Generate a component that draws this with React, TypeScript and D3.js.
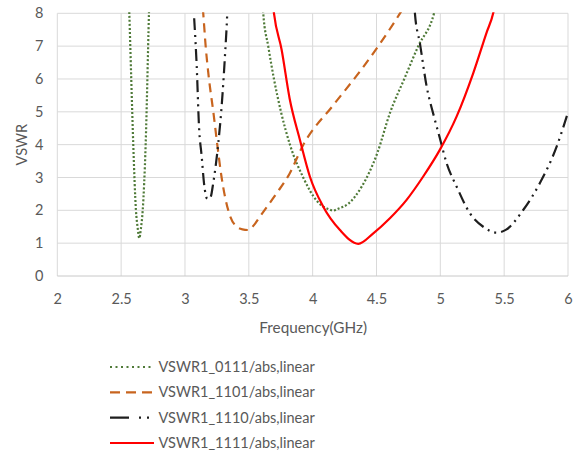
import React, { useRef, useEffect } from "react";
import * as d3 from "d3";

// frequency (GHz) / VSWR; values above 8 are clipped
const freq0111 = [2.55, 2.564, 2.58, 2.595, 2.616, 2.63, 2.642, 2.655, 2.669, 2.692, 2.718, 2.74, 3.59, 3.613, 3.652, 3.697, 3.752, 3.822, 3.926, 4.03, 4.135, 4.16, 4.2, 4.279, 4.384, 4.506, 4.605, 4.723, 4.827, 4.95, 4.97];
const vswr0111 = [9.5, 8.0, 5.9, 4.0, 2.0, 1.45, 1.15, 1.45, 2.0, 4.0, 8.0, 11, 10, 8.0, 7.0, 6.0, 5.0, 4.0, 3.0, 2.3, 2.02, 1.99, 2.05, 2.2, 2.72, 3.74, 4.96, 6.05, 7.0, 7.99, 8.3];

const freq1101 = [3.13, 3.143, 3.162, 3.188, 3.222, 3.253, 3.287, 3.339, 3.405, 3.45, 3.496, 3.54, 3.587, 3.718, 3.817, 3.926, 4.161, 4.384, 4.514, 4.684, 4.7];
const vswr1101 = [8.6, 8.0, 7.0, 6.0, 5.0, 4.0, 3.0, 2.0, 1.5, 1.42, 1.4, 1.55, 1.81, 2.52, 3.1, 3.99, 5.2, 6.3, 7.0, 8.0, 8.1];

const freq1110 = [3.072, 3.092, 3.11, 3.131, 3.149, 3.175, 3.2, 3.222, 3.261, 3.287, 3.313, 3.331, 3.34, 4.79, 4.801, 4.84, 4.893, 4.95, 4.996, 5.049, 5.128, 5.232, 5.336, 5.441, 5.519, 5.649, 5.78, 5.911, 5.994];
const vswr1110 = [7.85, 6.38, 4.55, 3.64, 2.83, 2.35, 2.4, 2.85, 4.05, 5.16, 6.69, 8.0, 9.0, 9.0, 8.0, 7.09, 5.77, 4.86, 4.2, 3.44, 2.72, 1.91, 1.5, 1.32, 1.42, 2.01, 2.83, 3.94, 4.91];

const freq1111 = [3.68, 3.697, 3.757, 3.82, 3.9, 3.978, 4.083, 4.214, 4.357, 4.475, 4.605, 4.736, 4.866, 4.996, 5.128, 5.258, 5.363, 5.414, 5.43];
const vswr1111 = [8.6, 8.0, 6.89, 5.4, 4.15, 3.03, 2.11, 1.4, 0.98, 1.3, 1.76, 2.32, 3.03, 3.84, 4.86, 6.18, 7.42, 8.0, 8.3];

const seriesNames = ["VSWR1_0111/abs,linear", "VSWR1_1101/abs,linear", "VSWR1_1110/abs,linear", "VSWR1_1111/abs,linear"];
const xTicks = [2, 2.5, 3, 3.5, 4, 4.5, 5, 5.5, 6];
const yTicks = [0, 1, 2, 3, 4, 5, 6, 7, 8];

const FONT = "Lato, 'Open Sans', sans-serif";
const TEXT = "#595959";

const App = () => {
    const svgRef = useRef<SVGSVGElement>(null);

    useEffect(() => {
        const svg = d3.select(svgRef.current);
        svg.selectAll("*").remove();

        const x = d3.scaleLinear().domain([2, 6]).range([57.3, 568]);
        const y = d3.scaleLinear().domain([0, 8]).range([276, 13.3]);

        const series = [
            { name: seriesNames[0], f: freq0111, v: vswr0111, color: "#4f7a38", dash: "2,2", legendDash: "2,3.5" },
            { name: seriesNames[1], f: freq1101, v: vswr1101, color: "#c8641e", dash: "9,6", legendDash: "10,6" },
            { name: seriesNames[2], f: freq1110, v: vswr1110, color: "#1e1e1e", dash: "12,5,2,5,2,5", legendDash: "19,10,2,6,2,6" },
            { name: seriesNames[3], f: freq1111, v: vswr1111, color: "#ff0000", dash: null, legendDash: null },
        ];

        svg.append("defs").append("clipPath").attr("id", "plot-clip")
            .append("rect")
            .attr("x", x(2)).attr("y", y(8) - 1)
            .attr("width", x(6) - x(2)).attr("height", y(0) - y(8) + 1);

        // grid
        const grid = svg.append("g");
        grid.selectAll(".gx").data(xTicks).enter().append("line")
            .attr("x1", (d) => x(d)).attr("x2", (d) => x(d))
            .attr("y1", y(8)).attr("y2", y(0))
            .attr("stroke", "#d9d9d9").attr("stroke-width", 1);
        grid.selectAll(".gy").data(yTicks).enter().append("line")
            .attr("x1", x(2)).attr("x2", x(6))
            .attr("y1", (d) => y(d)).attr("y2", (d) => y(d))
            .attr("stroke", (d) => (d === 0 ? "#c8c8c8" : "#d9d9d9")).attr("stroke-width", 1);

        // tick labels
        const xAxis = d3.axisBottom(x).tickValues(xTicks).tickSize(0).tickFormat((d) => String(d));
        svg.append("g")
            .attr("transform", `translate(0, ${y(0)})`)
            .call(xAxis)
            .call((g) => g.select(".domain").remove())
            .selectAll("text")
            .attr("fill", TEXT)
            .attr("dy", "0")
            .attr("y", 27.5)
            .style("font-family", FONT)
            .style("font-size", "14.5px");

        const yAxis = d3.axisLeft(y).tickValues(yTicks).tickSize(0).tickFormat((d) => String(d));
        svg.append("g")
            .attr("transform", `translate(${x(2)}, 0)`)
            .call(yAxis)
            .call((g) => g.select(".domain").remove())
            .selectAll("text")
            .attr("fill", TEXT)
            .attr("x", -14)
            .style("font-family", FONT)
            .style("font-size", "14.5px");

        svg.append("text")
            .attr("x", (x(2) + x(6)) / 2 + 0.5)
            .attr("y", 333)
            .attr("text-anchor", "middle")
            .attr("fill", TEXT)
            .style("font-family", FONT)
            .style("font-size", "15.3px")
            .text("Frequency(GHz)");

        svg.append("text")
            .attr("transform", `translate(26.5, ${(y(0) + y(8)) / 2}) rotate(-90)`)
            .attr("text-anchor", "middle")
            .attr("fill", TEXT)
            .style("font-family", FONT)
            .style("font-size", "14.5px")
            .text("VSWR");

        // curves
        const gen = d3.line<[number, number]>()
            .x((d) => x(d[0]))
            .y((d) => y(d[1]))
            .curve(d3.curveMonotoneX);

        const plot = svg.append("g").attr("clip-path", "url(#plot-clip)");
        series.forEach((s) => {
            const pts: [number, number][] = s.f.map((f, i) => [f, s.v[i]]);
            plot.append("path")
                .attr("d", gen(pts))
                .attr("fill", "none")
                .attr("stroke", s.color)
                .attr("stroke-width", 2.2)
                .attr("stroke-dasharray", s.dash)
                .attr("stroke-linejoin", "round");
        });

        // legend
        const legend = svg.append("g");
        const rowY = d3.scaleLinear().domain([0, 3]).range([367, 443]);
        series.forEach((s, i) => {
            const ly = rowY(i);
            legend.append("line")
                .attr("x1", 110).attr("x2", 154)
                .attr("y1", ly).attr("y2", ly)
                .attr("stroke", s.color)
                .attr("stroke-width", 2.2)
                .attr("stroke-dasharray", s.legendDash);
            legend.append("text")
                .attr("x", 158.5)
                .attr("y", ly)
                .attr("dy", "0.35em")
                .attr("fill", TEXT)
                .style("font-family", FONT)
                .style("font-size", "14.5px")
                .text(s.name);
        });
    }, []);

    return (
        <svg ref={svgRef} width={578} height={454}
            style={{ position: "absolute", left: 0, top: 0, display: "block", background: "#fff" }}></svg>
    );
};

export default App;
